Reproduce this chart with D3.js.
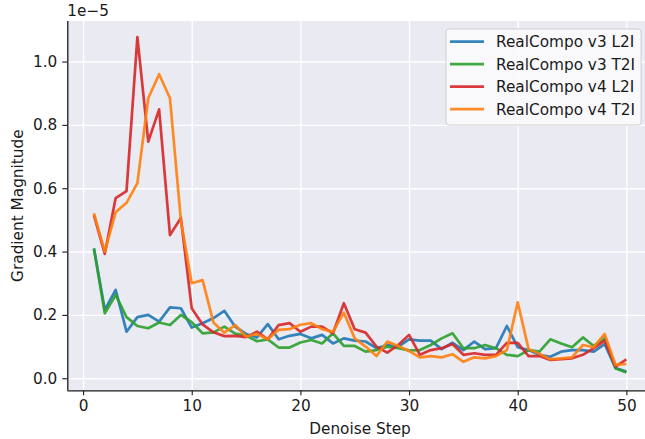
<!DOCTYPE html>
<html>
<head>
<meta charset="utf-8">
<script src="https://cdn.jsdelivr.net/npm/d3@7"></script>
<style>
  body { margin: 0; background: #fff; }
  svg { display: block; font-family: "DejaVu Sans", sans-serif; }
  .tick text { font-size: 15px; fill: #1a1a1a; }
  .grid line { stroke: #fff; stroke-width: 1.4px; }
  .grid path { display: none; }
</style>
</head>
<body>
<div id="chart"></div>
<script>
// Gradient magnitude per denoise step (units of 1e-5)
var steps = [1, 2, 3, 4, 5, 6, 7, 8, 9, 10, 11, 12, 13, 14, 15, 16, 17, 18, 19, 20,
  21, 22, 23, 24, 25, 26, 27, 28, 29, 30, 31, 32, 33, 34, 35, 36, 37, 38, 39, 40,
  41, 42, 43, 44, 45, 46, 47, 48, 49, 50];

var v3L2I = [0.41, 0.216, 0.279, 0.147, 0.193, 0.20, 0.179, 0.224, 0.221, 0.16,
  0.174, 0.19, 0.213, 0.163, 0.14, 0.129, 0.171, 0.123, 0.134, 0.14,
  0.126, 0.137, 0.11, 0.126, 0.119, 0.116, 0.095, 0.105, 0.10, 0.123,
  0.119, 0.119, 0.092, 0.112, 0.089, 0.116, 0.092, 0.095, 0.165, 0.098,
  0.089, 0.074, 0.068, 0.084, 0.089, 0.089, 0.084, 0.108, 0.032, 0.021];

var v3T2I = [0.41, 0.205, 0.263, 0.193, 0.165, 0.158, 0.176, 0.168, 0.20, 0.177,
  0.142, 0.145, 0.163, 0.141, 0.135, 0.117, 0.123, 0.097, 0.097, 0.113,
  0.121, 0.11, 0.142, 0.102, 0.102, 0.084, 0.089, 0.10, 0.095, 0.088,
  0.089, 0.105, 0.126, 0.142, 0.095, 0.095, 0.105, 0.095, 0.074, 0.07,
  0.089, 0.084, 0.123, 0.11, 0.098, 0.129, 0.102, 0.126, 0.032, 0.018];

var v4L2I = [0.515, 0.393, 0.569, 0.591, 1.077, 0.747, 0.849, 0.452, 0.506, 0.221,
  0.17, 0.145, 0.133, 0.134, 0.13, 0.147, 0.123, 0.168, 0.174, 0.147,
  0.163, 0.163, 0.142, 0.237, 0.155, 0.144, 0.10, 0.081, 0.105, 0.137,
  0.074, 0.089, 0.095, 0.108, 0.074, 0.079, 0.074, 0.074, 0.112, 0.112,
  0.07, 0.07, 0.058, 0.06, 0.063, 0.074, 0.095, 0.119, 0.037, 0.06];

var v4T2I = [0.521, 0.40, 0.524, 0.554, 0.616, 0.884, 0.96, 0.884, 0.50, 0.30,
  0.31, 0.176, 0.144, 0.168, 0.132, 0.14, 0.123, 0.153, 0.155, 0.169,
  0.174, 0.155, 0.147, 0.207, 0.126, 0.10, 0.07, 0.116, 0.102, 0.086,
  0.066, 0.07, 0.066, 0.076, 0.052, 0.066, 0.063, 0.07, 0.089, 0.24,
  0.092, 0.077, 0.06, 0.063, 0.066, 0.105, 0.098, 0.14, 0.042, 0.045];

var seriesNames = ["RealCompo v3 L2I", "RealCompo v3 T2I", "RealCompo v4 L2I", "RealCompo v4 T2I"];
var seriesColors = ["#1f77b4", "#2ca02c", "#d62728", "#ff7f0e"];
var xTicks = [0, 10, 20, 30, 40, 50];
var yTicks = [0.0, 0.2, 0.4, 0.6, 0.8, 1.0];

var series = [v3L2I, v3T2I, v4L2I, v4T2I].map(function(vals, i) {
  return {
    name: seriesNames[i],
    color: seriesColors[i],
    values: steps.map((s, k) => ({ step: s, amt: vals[k] }))
  };
});

var width = 645, height = 439;
var plot = { left: 67.3, right: 653, top: 21, bottom: 390.3 };
var fontSize = 15.3;

var svg = d3.select("#chart").append("svg")
  .attr("width", width)
  .attr("height", height);

var xScale = d3.scaleLinear().domain([-1.45, 52.45]).range([plot.left, plot.right]);
var yScale = d3.scaleLinear().domain([-0.038, 1.128]).range([plot.bottom, plot.top]);

// background
svg.append("rect")
  .attr("x", plot.left).attr("y", plot.top)
  .attr("width", plot.right - plot.left).attr("height", plot.bottom - plot.top)
  .attr("fill", "#eaeaf2");

// grid
svg.append("g")
  .attr("class", "grid")
  .attr("transform", `translate(0,${plot.bottom})`)
  .call(d3.axisBottom(xScale).tickValues(xTicks).tickSize(-(plot.bottom - plot.top)).tickFormat(""));

svg.append("g")
  .attr("class", "grid")
  .attr("transform", `translate(${plot.left},0)`)
  .call(d3.axisLeft(yScale).tickValues(yTicks).tickSize(-(plot.right - plot.left)).tickFormat(""));

// lines
var line = d3.line()
  .x(d => xScale(d.step))
  .y(d => yScale(d.amt));

svg.append("g")
  .selectAll("path")
  .data(series)
  .enter()
  .append("path")
  .attr("fill", "none")
  .attr("stroke", d => d.color)
  .attr("stroke-opacity", 0.9)
  .attr("stroke-width", 2.7)
  .attr("stroke-linejoin", "round")
  .attr("d", d => line(d.values));

// axes
var xAxis = svg.append("g")
  .attr("transform", `translate(0,${plot.bottom})`)
  .call(d3.axisBottom(xScale).tickValues(xTicks).tickSize(5).tickPadding(5).tickFormat(d3.format("d")));

var yAxis = svg.append("g")
  .attr("transform", `translate(${plot.left},0)`)
  .call(d3.axisLeft(yScale).tickValues(yTicks).tickSize(5).tickPadding(5).tickFormat(d => d.toFixed(1)));

[xAxis, yAxis].forEach(function(ax) {
  ax.select(".domain").attr("stroke", "#1a1a1a").attr("stroke-width", 1.3);
  ax.selectAll(".tick line").attr("stroke", "#1a1a1a").attr("stroke-width", 1.1);
  ax.selectAll(".tick text").style("font-family", "DejaVu Sans").style("font-size", fontSize + "px");
});
yAxis.select(".domain").attr("d", `M0.5,${plot.top}V${plot.bottom}`);
xAxis.select(".domain").attr("d", `M${plot.left},0.5H${plot.right}`);

// offset text
svg.append("text")
  .attr("x", plot.left)
  .attr("y", 16)
  .attr("font-size", fontSize)
  .attr("fill", "#1a1a1a")
  .text("1e\u22125");

// axis labels
svg.append("text")
  .attr("x", 360)
  .attr("y", 434)
  .attr("text-anchor", "middle")
  .attr("font-size", fontSize)
  .attr("fill", "#1a1a1a")
  .text("Denoise Step");

svg.append("text")
  .attr("transform", `translate(23,${(plot.top + plot.bottom) / 2}) rotate(-90)`)
  .attr("text-anchor", "middle")
  .attr("font-size", fontSize)
  .attr("fill", "#1a1a1a")
  .text("Gradient Magnitude");

// legend
var legend = svg.append("g").attr("transform", "translate(446,29)");
legend.append("rect")
  .attr("x", 0).attr("y", 0)
  .attr("width", 195).attr("height", 96)
  .attr("rx", 3)
  .attr("fill", "#fbfbfd")
  .attr("fill-opacity", 0.9)
  .attr("stroke", "#d0d0d0");

var items = legend.selectAll("g.item")
  .data(series)
  .enter()
  .append("g")
  .attr("class", "item")
  .attr("transform", (d, i) => `translate(0,${12.7 + i * 22.5})`);

items.append("line")
  .attr("x1", 4).attr("x2", 38)
  .attr("stroke", d => d.color)
  .attr("stroke-opacity", 0.9)
  .attr("stroke-width", 2.7);

items.append("text")
  .attr("x", 50)
  .attr("y", 5.5)
  .attr("font-size", fontSize)
  .attr("fill", "#1a1a1a")
  .text(d => d.name);
</script>
</body>
</html>
